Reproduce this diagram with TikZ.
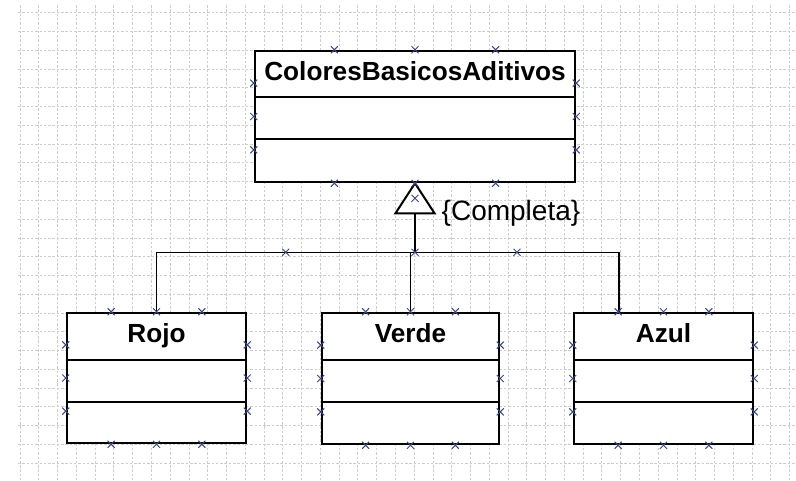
\documentclass[tikz,border=0pt]{standalone}
\usepackage{fontspec}
\setmainfont{Liberation Sans}
\usetikzlibrary{calc}
\definecolor{handlecol}{RGB}{60,70,135}
\definecolor{gridcol}{RGB}{205,205,205}
\begin{document}
\begin{tikzpicture}[x=1pt,y=-1pt,
  gridline/.style={draw=gridcol, line width=0.8pt, dash pattern=on 2.5pt off 1.8pt},
  classbox/.style={draw=black, line width=2.5pt, fill=white, inner sep=0pt, minimum height=131pt},
  divider/.style={draw=black, line width=2pt},
  conn/.style={draw=black, line width=1.4pt},
  tri/.style={draw=black, line width=2pt, fill=white, line join=miter},
  nametext/.style={font=\bfseries\fontsize{26.2}{30}\selectfont, inner sep=0pt, anchor=base},
  handle/.style={draw=handlecol, line width=1pt},
  hx/.pic={\draw[handle] (-3.5,-3.5) -- (3.5,3.5) (-3.5,3.5) -- (3.5,-3.5);}
]
\path[use as bounding box, fill=white] (0,0) rectangle (796,480);
% grid
\foreach \i in {0,...,41} \draw[gridline] ({20+18.77*\i},5) -- ({20+18.77*\i},480);
\foreach \j in {0,...,25} \draw[gridline] (18,{12.7+18.77*\j}) -- (796,{12.7+18.77*\j});

% class boxes
\node[classbox, minimum width=320pt] (top) at (415,116.5) {};
\node[classbox, minimum width=179pt, minimum height=130pt] (Rojo) at (156.5,378) {};
\node[classbox, minimum width=177pt] (Verde) at (410.5,378.5) {};
\node[classbox, minimum width=179pt] (Azul) at (663.5,378.5) {};

% dividers
\draw[divider] ([yshift=-47pt]top.north west) -- ([yshift=-47pt]top.north east);
\draw[divider] ([yshift=-89pt]top.north west) -- ([yshift=-89pt]top.north east);
\foreach \b in {Rojo,Verde,Azul}{
  \draw[divider] ([yshift=-48pt]\b.north west) -- ([yshift=-48pt]\b.north east);
  \draw[divider] ([yshift=-90pt]\b.north west) -- ([yshift=-90pt]\b.north east);
}

% names
\node[nametext] (topname) at ([yshift=-31pt]top.north) {ColoresBasicosAditivos};
\node[nametext] (rojoname) at ([yshift=-31pt]Rojo.north) {Rojo};
\node[nametext] (verdename) at ([yshift=-31pt]Verde.north) {Verde};
\node[nametext] (azulname) at ([yshift=-31pt]Azul.north) {Azul};

% generalization
\coordinate (tl) at ([shift={(-19.5,30)}]top.south);
\coordinate (tr) at ([shift={(19.5,30)}]top.south);
\coordinate (tb) at ([shift={(0,30)}]top.south);
\coordinate (junc) at ([shift={(0,69)}]top.south);
\coordinate (azc) at ([xshift=-44.5pt]Azul.north);
\draw[conn] (tb) -- (junc);
\draw[conn] (Rojo.north) |- (junc) -| (azc);
\draw[conn] (junc -| Verde.north) -- (Verde.north);
\draw[tri] (top.south) -- (tl) -- (tr) -- cycle;
\node[anchor=west, inner sep=0pt, font=\fontsize{28}{32}\selectfont] (compl) at ([xshift=7pt]tr) {\{Completa\}};

% handles
\foreach \b in {top,Rojo,Verde,Azul}{
  \foreach \f in {0.25,0.5,0.75}{
    \pic at ($(\b.north west)!\f!(\b.north east)$) {hx};
    \pic at ($(\b.south west)!\f!(\b.south east)$) {hx};
    \pic at ($(\b.north west)!\f!(\b.south west)$) {hx};
    \pic at ($(\b.north east)!\f!(\b.south east)$) {hx};
  }
}
\pic at ($(top.south)!0.5!(tb)$) {hx};
\pic at (junc) {hx};
\pic at ($(Rojo.north |- junc)!0.5!(junc)$) {hx};
\pic at ($(junc)!0.5!(azc |- junc)$) {hx};
\end{tikzpicture}
\end{document}
